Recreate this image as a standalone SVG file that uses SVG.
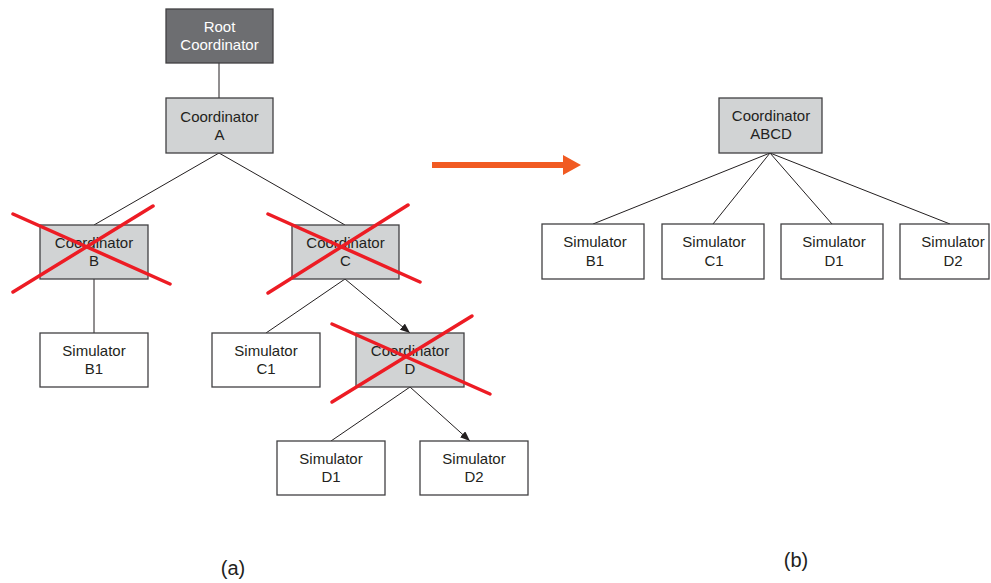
<svg xmlns="http://www.w3.org/2000/svg" width="991" height="583" viewBox="0 0 991 583">
<defs>
<style>
.box{stroke:#414042;stroke-width:1.3}
.coord{fill:#d1d3d4}
.root{fill:#6d6e71}
.sim{fill:#ffffff}
.t{font-family:"Liberation Sans",Arial,sans-serif;font-size:15px;fill:#231f20;text-anchor:middle}
.tw{fill:#ffffff}
.lbl{font-family:"Liberation Sans",Arial,sans-serif;font-size:20px;fill:#231f20;text-anchor:middle}
.edge{stroke:#231f20;stroke-width:1;fill:none}
.cross{stroke:#ed1c24;stroke-width:3.5;stroke-linecap:round}
</style>
<marker id="ah" viewBox="0 0 10 8" refX="10" refY="4" markerWidth="10" markerHeight="8" markerUnits="userSpaceOnUse" orient="auto">
<path d="M0,0 L10,4 L0,8 Z" fill="#231f20"/>
</marker>
</defs>
<rect width="991" height="583" fill="#ffffff"/>
<g id="connectors">
<line class="edge" x1="219" y1="63" x2="219" y2="98"/>
<line class="edge" x1="219" y1="153" x2="94" y2="225"/>
<line class="edge" x1="219" y1="153" x2="345" y2="225"/>
<line class="edge" x1="94" y1="279" x2="94" y2="333"/>
<line class="edge" x1="345" y1="279" x2="266" y2="333"/>
<line class="edge" x1="345" y1="279" x2="410" y2="333" marker-end="url(#ah)"/>
<line class="edge" x1="410" y1="387" x2="331" y2="441"/>
<line class="edge" x1="410" y1="387" x2="470" y2="441" marker-end="url(#ah)"/>
<line class="edge" x1="770" y1="153" x2="593" y2="224"/>
<line class="edge" x1="770" y1="153" x2="713" y2="224"/>
<line class="edge" x1="770" y1="153" x2="832" y2="224"/>
<line class="edge" x1="770" y1="153" x2="950" y2="224"/>
</g>
<g id="root">
<rect class="box root" x="166" y="9" width="107" height="54"/>
<text class="t tw" x="219.5" y="32">Root</text>
<text class="t tw" x="219.5" y="50">Coordinator</text>
</g>
<g id="coordA">
<rect class="box coord" x="166" y="98" width="107" height="55"/>
<text class="t" x="219.5" y="122">Coordinator</text>
<text class="t" x="219.5" y="140">A</text>
</g>
<g id="coordB">
<rect class="box coord" x="40" y="225" width="108" height="54"/>
<text class="t" x="94" y="248">Coordinator</text>
<text class="t" x="94" y="266">B</text>
</g>
<g id="coordC">
<rect class="box coord" x="292" y="225" width="107" height="54"/>
<text class="t" x="345.5" y="248">Coordinator</text>
<text class="t" x="345.5" y="266">C</text>
</g>
<g id="simB1">
<rect class="box sim" x="40" y="333" width="108" height="54"/>
<text class="t" x="94" y="356">Simulator</text>
<text class="t" x="94" y="374">B1</text>
</g>
<g id="simC1">
<rect class="box sim" x="212" y="333" width="108" height="54"/>
<text class="t" x="266" y="356">Simulator</text>
<text class="t" x="266" y="374">C1</text>
</g>
<g id="coordD">
<rect class="box coord" x="356" y="333" width="108" height="54"/>
<text class="t" x="410" y="356">Coordinator</text>
<text class="t" x="410" y="374">D</text>
</g>
<g id="simD1">
<rect class="box sim" x="277" y="441" width="108" height="54"/>
<text class="t" x="331" y="464">Simulator</text>
<text class="t" x="331" y="482">D1</text>
</g>
<g id="simD2">
<rect class="box sim" x="420" y="441" width="108" height="54"/>
<text class="t" x="474" y="464">Simulator</text>
<text class="t" x="474" y="482">D2</text>
</g>
<g id="crosses">
<line class="cross" x1="13" y1="214" x2="170" y2="284"/>
<line class="cross" x1="13" y1="292" x2="153" y2="206"/>
<line class="cross" x1="268" y1="214" x2="420" y2="282"/>
<line class="cross" x1="268" y1="293" x2="408" y2="205"/>
<line class="cross" x1="332" y1="324" x2="490" y2="394"/>
<line class="cross" x1="332" y1="402" x2="472" y2="316"/>
</g>
<g id="transform-arrow">
<path d="M432,162 L563,162 L563,155 L581,165 L563,175 L563,168 L432,168 Z" fill="#f15a22"/>
</g>
<g id="coordABCD">
<rect class="box coord" x="719" y="98" width="103" height="55"/>
<text class="t" x="771" y="121">Coordinator</text>
<text class="t" x="771" y="139">ABCD</text>
</g>
<g id="rsimB1">
<rect class="box sim" x="542" y="224" width="102" height="55"/>
<text class="t" x="595" y="247">Simulator</text>
<text class="t" x="595" y="266">B1</text>
</g>
<g id="rsimC1">
<rect class="box sim" x="662" y="224" width="102" height="55"/>
<text class="t" x="714" y="247">Simulator</text>
<text class="t" x="714" y="266">C1</text>
</g>
<g id="rsimD1">
<rect class="box sim" x="781" y="224" width="102" height="55"/>
<text class="t" x="834" y="247">Simulator</text>
<text class="t" x="834" y="266">D1</text>
</g>
<g id="rsimD2">
<rect class="box sim" x="900" y="224" width="89" height="55"/>
<text class="t" x="953" y="247">Simulator</text>
<text class="t" x="953" y="266">D2</text>
</g>
<g id="labels">
<text class="lbl" x="233" y="575">(a)</text>
<text class="lbl" x="796" y="567">(b)</text>
</g>
</svg>
